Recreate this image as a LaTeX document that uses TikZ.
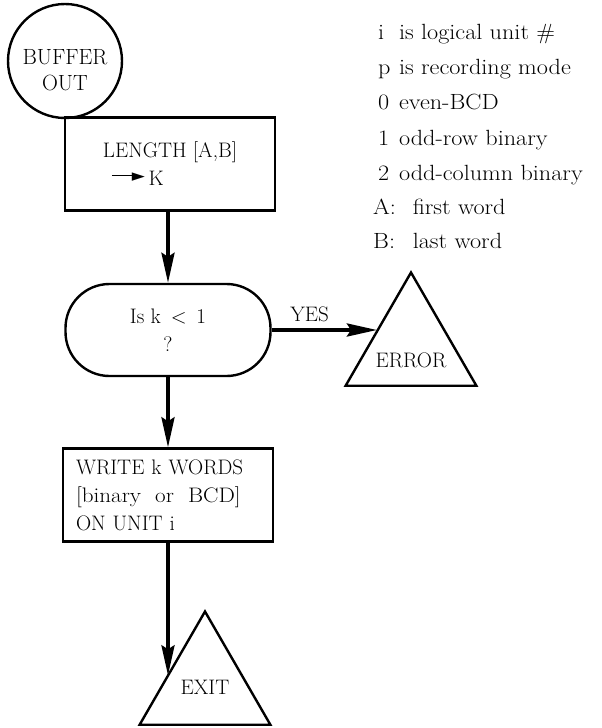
\documentclass[tikz,border=0pt]{standalone}
\usepackage{fontspec}
\newfontfamily\symfont{DejaVu Sans}
\usetikzlibrary{arrows.meta,shapes.geometric}
% widened setting for the lowercase-heavy lines
\newcommand{\widen}[1]{\scalebox{1.1}[1]{#1}}
% assignment arrow with a solid head
\newcommand{\assignarrow}{\raisebox{9.5pt}{\rule{24pt}{1.8pt}}\kern-4pt\raisebox{4.3pt}{\symfont\fontsize{17pt}{17pt}\selectfont ►}}
\begin{document}
\begin{tikzpicture}[x=1pt,y=-1pt,
  every node/.style={font=\fontsize{21pt}{28pt}\selectfont},
  outline/.style={draw,line width=2.4pt},
  procbox/.style={outline,rectangle,minimum width=210pt,minimum height=93pt,align=left,inner sep=0pt},
  decision/.style={outline,rectangle,rounded corners=44pt,minimum width=205pt,minimum height=92pt,align=center},
  terminal/.style={outline,regular polygon,regular polygon sides=3,minimum size=151pt,inner sep=0pt},
  startcircle/.style={outline,circle,minimum size=114pt,inner sep=0pt},
  flow/.style={line width=3.6pt,-{Stealth[length=30pt,width=13pt,inset=4pt]}},
  legend/.style={anchor=base west,inner sep=0pt,font=\fontsize{22pt}{28pt}\selectfont},
]
\useasboundingbox (0,0) rectangle (602,728);

% flow chart
\node[startcircle,label={[yshift=-9pt,align=center,font=\fontsize{22pt}{26pt}\selectfont]center:BUFFER\\OUT}] (buf) at (65,61) {};
\node[procbox] (len) at (170,164) {LENGTH [A,B]\\\hspace{9pt}\assignarrow\,K};
\node[decision] (test) at (168,330) {Is k \,$<$\, 1\\?};
\node[terminal,label={[yshift=-12pt]center:ERROR}] (err) at (411,348) {};
\node[procbox,text width=184pt] (write) at (168,495) {WRITE k WORDS\\\widen{{[}binary\; or\; BCD{]}}\\ON UNIT i};
\node[terminal] (exit) at (205,687) {EXIT};

\draw[flow] (len.south -| test.north) -- (test.north);
\draw[flow] (test.east) -- node[pos=0.36,above=6pt,inner sep=0pt] (yes) {YES} (test.east -| err.151.8);
\draw[flow] (test.south) -- (write.north);
\draw[flow] (write.south) -- (write.south |- exit.163.4);

% legend
\node[legend] (l1) at (378,39)  {\widen{\makebox[19pt][l]{i}is logical unit \#}};
\node[legend] (l2) at (378,74)  {\widen{\makebox[19pt][l]{p}is recording mode}};
\node[legend] (l3) at (378,109) {\widen{\makebox[19pt][l]{0}even-BCD}};
\node[legend] (l4) at (378,145) {\widen{\makebox[19pt][l]{1}odd-row binary}};
\node[legend] (l5) at (378,180) {\widen{\makebox[19pt][l]{2}odd-column binary}};
\node[legend] (l6) at (373,214) {\widen{\makebox[36pt][l]{A:}first word}};
\node[legend] (l7) at (373,248) {\widen{\makebox[36pt][l]{B:}last word}};
\end{tikzpicture}
\end{document}
